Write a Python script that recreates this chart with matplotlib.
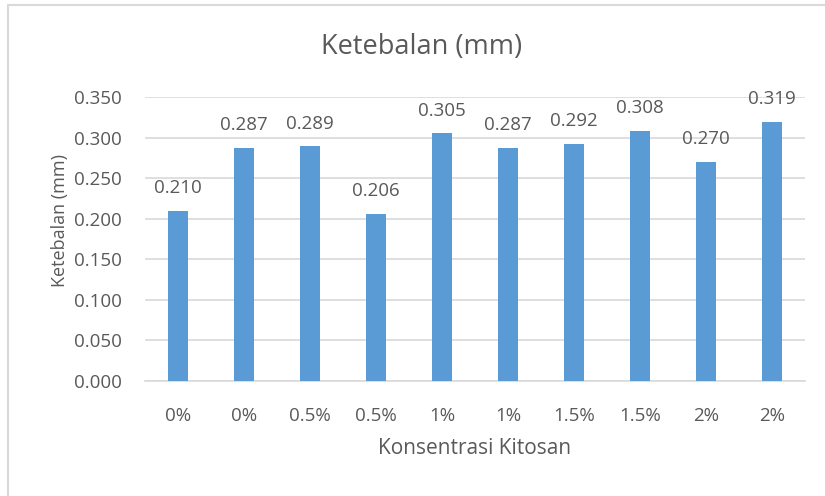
import matplotlib.pyplot as plt
import numpy as np
from matplotlib.patches import Rectangle

plt.rcParams['font.family'] = ['Open Sans', 'DejaVu Sans']

konsentrasi = ['0%', '0%', '0.5%', '0.5%', '1%', '1%', '1.5%', '1.5%', '2%', '2%']
ketebalan = [0.210, 0.287, 0.289, 0.206, 0.305, 0.287, 0.292, 0.308, 0.270, 0.319]

txt = '#595959'
fig = plt.figure(figsize=(8.25, 4.96), dpi=100)
ax = fig.add_axes([0.1758, 0.2319, 0.80, 0.5726])

x = np.arange(len(konsentrasi))
bars = ax.bar(x, ketebalan, width=0.30, color='#5B9BD5', zorder=3)
for b, v in zip(bars, ketebalan):
    ax.annotate('%.3f' % v, (b.get_x() + b.get_width() / 2, v), xytext=(0, 10),
                textcoords='offset points', ha='center', va='bottom',
                fontsize=13.5, color=txt)

ax.set_xlim(-0.5, len(konsentrasi) - 0.5)
ax.set_ylim(0, 0.35)
ax.set_yticks(np.arange(0, 0.351, 0.05))
ax.set_yticklabels(['%.3f' % t for t in np.arange(0, 0.351, 0.05)])
ax.set_xticks(x)
ax.set_xticklabels(konsentrasi)
ax.tick_params(axis='both', length=0, labelsize=13.5, colors=txt)
ax.tick_params(axis='x', pad=19)
ax.tick_params(axis='y', pad=17)
ax.grid(axis='y', color='#D9D9D9', linewidth=1.2, zorder=0)
for s in ['top', 'right', 'left']:
    ax.spines[s].set_visible(False)
ax.spines['bottom'].set_color('#D9D9D9')
ax.spines['bottom'].set_linewidth(1.2)

ax.set_ylabel('Ketebalan (mm)', fontsize=13, color=txt)
ax.yaxis.set_label_coords(-0.115, 0.565)
ax.set_xlabel('Konsentrasi Kitosan', fontsize=15, color=txt, labelpad=9)
fig.text(0.511, 0.905, 'Ketebalan (mm)', ha='center', va='center',
         fontsize=19.5, color=txt)

# outer chart frame
fig.patches.append(Rectangle((8 / 825, -0.1), 1.1, 1.09,
                             transform=fig.transFigure, fill=False,
                             edgecolor='#D9D9D9', linewidth=1.5))

fig.savefig('out.png', dpi=100)
